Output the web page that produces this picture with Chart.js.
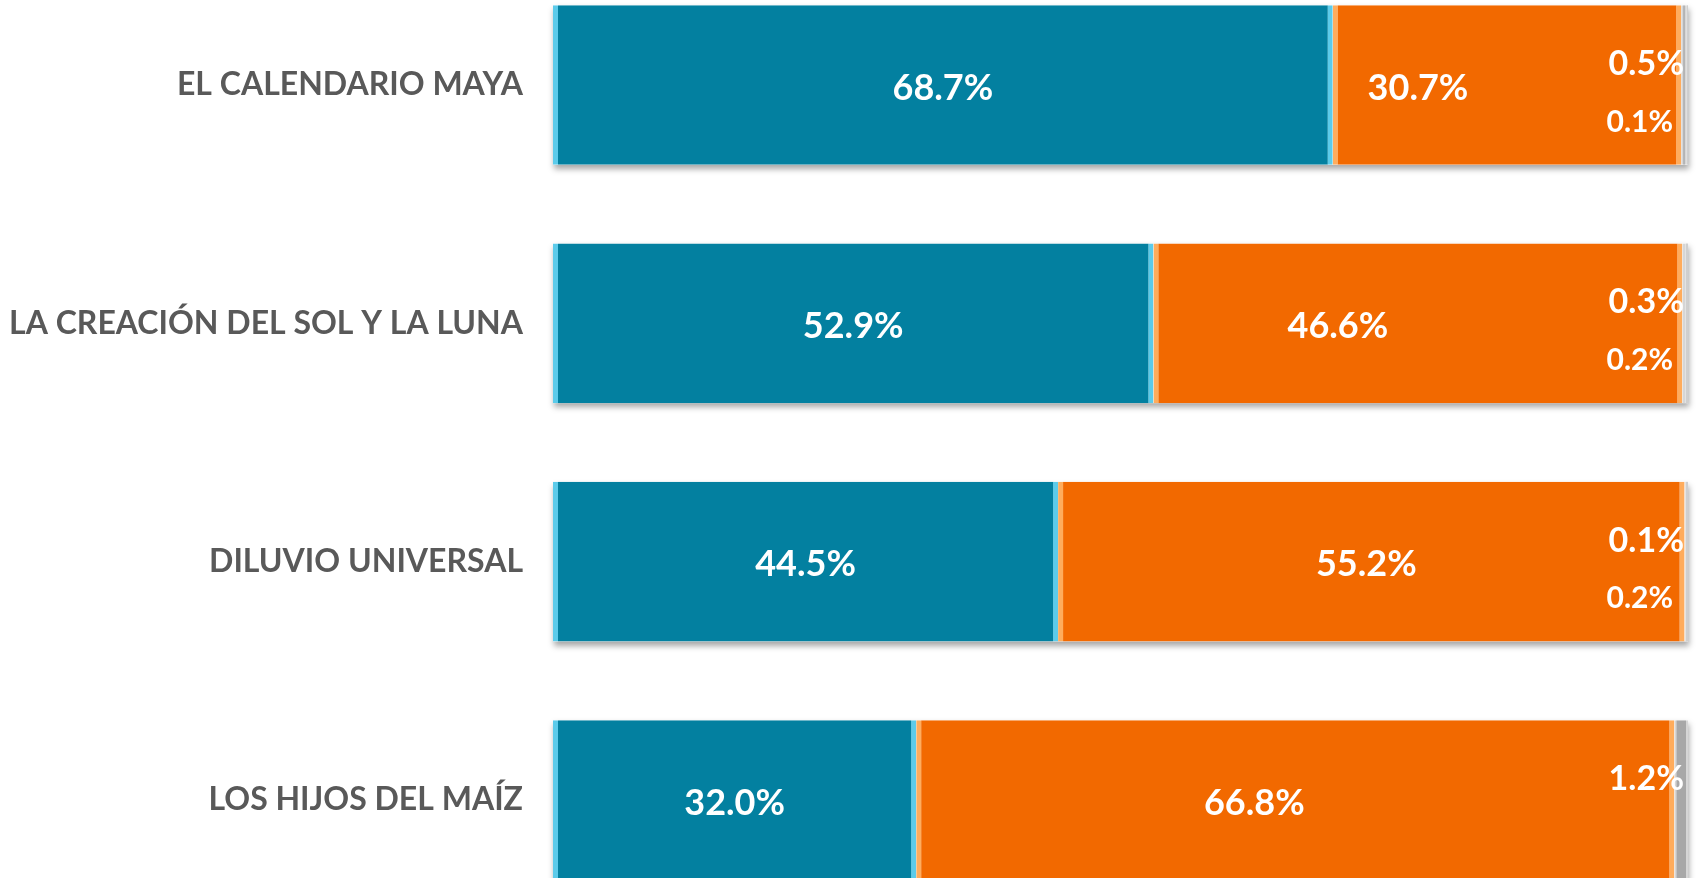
<!DOCTYPE html>
<html>
<head>
<meta charset="utf-8">
<script src="https://cdn.jsdelivr.net/npm/chart.js@4/dist/chart.umd.min.js"></script>
<style>
    body { margin: 0; background: #ffffff; }
    #wrap { width: 1704px; height: 878px; position: relative; }
</style>
</head>
<body>
<div id="wrap"><canvas id="myChart"></canvas></div>
<script>
var categories = ['EL CALENDARIO MAYA', 'LA CREACIÓN DEL SOL Y LA LUNA', 'DILUVIO UNIVERSAL', 'LOS HIJOS DEL MAÍZ'];
var si_values = [68.7, 52.9, 44.5, 32.0];
var no_values = [30.7, 46.6, 55.2, 66.8];
var ns_values = [0.5, 0.3, 0.1, 1.2];
var nc_values = [0.1, 0.2, 0.2, 0];

// shadow under each whole bar
var shadowPlugin = {
    id: 'barShadow',
    beforeDatasetsDraw: function(chart){
        var ctx = chart.ctx;
        var first = chart.getDatasetMeta(0).data;
        ctx.save();
        ctx.shadowColor = 'rgba(0,0,0,0.35)';
        ctx.shadowBlur = 6;
        ctx.shadowOffsetX = 1;
        ctx.shadowOffsetY = 4;
        ctx.fillStyle = '#ffffff';
        for (var i = 0; i < first.length; i++) {
            var bar = first[i];
            var h = bar.height;
            ctx.fillRect(bar.base, bar.y - h / 2, chart.chartArea.right - bar.base, h);
        }
        ctx.restore();
    }
};

// value labels (excel style, orange ones nudged left like the original)
var labelPlugin = {
    id: 'valueLabels',
    afterDatasetsDraw: function(chart, args, opts){
        var ctx = chart.ctx;
        ctx.save();
        ctx.fillStyle = '#ffffff';
        ctx.textBaseline = 'middle';
        chart.data.datasets.forEach(function(ds, d){
            var meta = chart.getDatasetMeta(d);
            meta.data.forEach(function(bar, i){
                var v = ds.data[i];
                if (!v) return;
                var txt = v.toFixed(1) + '%';
                if (d < 2) {
                    var shift = d == 1 ? opts.shift[i] : 0;
                    ctx.font = 'bold 36px Lato';
                    ctx.textAlign = 'center';
                    ctx.fillText(txt, (bar.x + bar.base) / 2 + shift, bar.y + 3);
                } else if (d == 2) {
                    ctx.font = 'bold 34px Lato';
                    ctx.textAlign = 'right';
                    ctx.fillText(txt, chart.chartArea.right - 4, bar.y - 21);
                } else {
                    ctx.font = 'bold 30px Lato';
                    ctx.textAlign = 'right';
                    ctx.fillText(txt, chart.chartArea.right - 15, bar.y + 37);
                }
            });
        });
        ctx.restore();
    }
};

var edges = {top: 0, bottom: 0, left: 5, right: 5};

var ctx = document.getElementById('myChart').getContext('2d');
var chart = new Chart(ctx, {
    type: 'bar',
    data: {
        labels: categories,
        datasets: [{
            label: 'Sí',
            data: si_values,
            backgroundColor: '#0380a0',
            borderColor: '#5ccbea',
            borderWidth: edges,
            borderSkipped: false,
            clip: false
        }, {
            label: 'No',
            data: no_values,
            backgroundColor: '#f26900',
            borderColor: '#ffac5c',
            borderWidth: edges,
            borderSkipped: false,
            clip: false
        }, {
            label: 'No sabe',
            data: ns_values,
            backgroundColor: '#a8a8a8',
            borderColor: '#d6d6d6',
            borderWidth: {top: 0, bottom: 0, left: 2, right: 2},
            borderSkipped: false,
            clip: false
        }, {
            label: 'No contestó',
            data: nc_values,
            backgroundColor: '#cfcfcf',
            borderWidth: 0,
            clip: false
        }]
    },
    options: {
        indexAxis: 'y',
        responsive: true,
        maintainAspectRatio: false,
        animation: false,
        barPercentage: 1,
        categoryPercentage: 0.67,
        layout: { padding: { top: 85, bottom: 78, left: 0, right: 16 } },
        plugins: {
            legend: { display: false },
            tooltip: { enabled: false },
            valueLabels: { shift: [-89, -80, -5, -41] }
        },
        scales: {
            x: { stacked: true, min: 0, max: 100, display: false },
            y: {
                stacked: true,
                offset: false,
                grid: { display: false },
                border: { display: false },
                ticks: {
                    color: '#595959',
                    font: { family: 'Lato', size: 32, weight: 'bold' },
                    padding: 22,
                    autoSkip: false
                },
                afterFit: function(scale){ scale.width = 553; }
            }
        }
    },
    plugins: [shadowPlugin, labelPlugin]
});
</script>
</body>
</html>
